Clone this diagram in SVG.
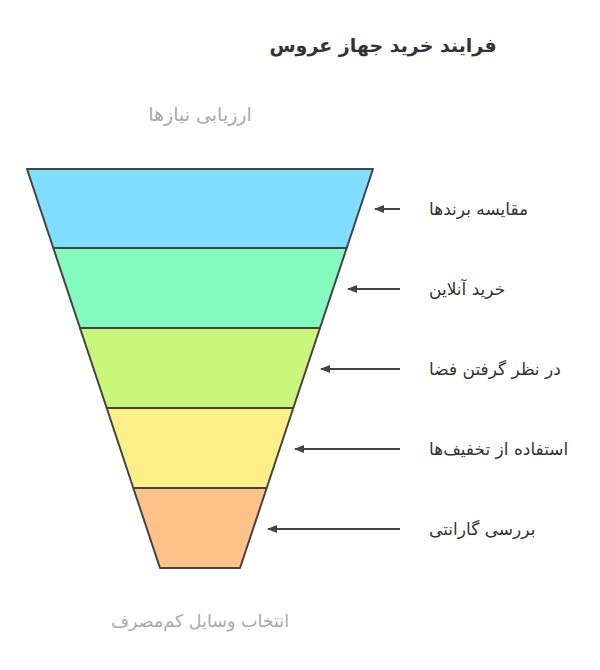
<svg xmlns="http://www.w3.org/2000/svg" width="600" height="670" viewBox="0 0 600 670">
<style>
.band{stroke:#444;stroke-width:2;stroke-linejoin:round}
.lbl{font-family:"DejaVu Sans","Liberation Sans",sans-serif;font-size:17px;fill:#333}
.side{font-family:"DejaVu Sans","Liberation Sans",sans-serif;fill:#aaa;text-anchor:middle}
.title{font-family:"DejaVu Sans","Liberation Sans",sans-serif;font-size:19px;font-weight:bold;fill:#333;text-anchor:middle}
.conn{stroke:#444;stroke-width:2;fill:none;marker-end:url(#ah)}
</style>
<defs>
<marker id="ah" viewBox="0 0 10 8" refX="9" refY="4" markerWidth="10" markerHeight="8" markerUnits="userSpaceOnUse" orient="auto">
<path d="M0,0 L10,4 L0,8 Z" fill="#444"/>
</marker>
</defs>
<rect width="600" height="670" fill="#fff"/>
<text class="title" x="383" y="52">فرایند خرید جهاز عروس</text>
<text class="side" x="200" y="121" font-size="19">ارزیابی نیازها</text>
<text class="side" x="200" y="627" font-size="17.5">انتخاب وسایل کم‌مصرف</text>
<g id="band1"><polygon class="band" fill="#7fdeff" points="27,169 373,169 346.7,248 53.3,248"/></g>
<g id="band2"><polygon class="band" fill="#84fabf" points="53.3,248 346.7,248 320,328 80,328"/></g>
<g id="band3"><polygon class="band" fill="#c9f57b" points="80,328 320,328 293.3,408 106.7,408"/></g>
<g id="band4"><polygon class="band" fill="#ffef88" points="106.7,408 293.3,408 266.7,488 133.3,488"/></g>
<g id="band5"><polygon class="band" fill="#ffc38a" points="133.3,488 266.7,488 240,568 160,568"/></g>
<g id="connectors">
<line class="conn" x1="400" y1="209" x2="375" y2="209"/>
<line class="conn" x1="400" y1="289" x2="348" y2="289"/>
<line class="conn" x1="400" y1="369" x2="321" y2="369"/>
<line class="conn" x1="400" y1="449" x2="295" y2="449"/>
<line class="conn" x1="400" y1="529" x2="268" y2="529"/>
</g>
<g id="label1"><text class="lbl" x="429" y="215">مقایسه برندها</text></g>
<g id="label2"><text class="lbl" x="429" y="295">خرید آنلاین</text></g>
<g id="label3"><text class="lbl" x="429" y="375">در نظر گرفتن فضا</text></g>
<g id="label4"><text class="lbl" x="429" y="455">استفاده از تخفیف‌ها</text></g>
<g id="label5"><text class="lbl" x="429" y="535">بررسی گارانتی</text></g>
</svg>
